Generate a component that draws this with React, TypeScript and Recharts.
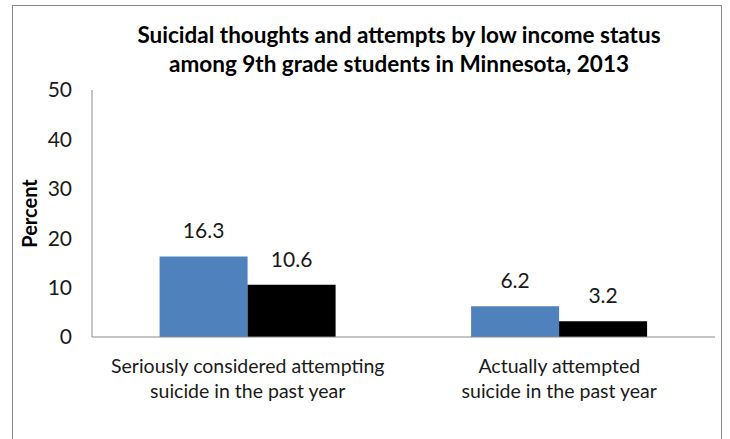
import React from 'react';
import { BarChart, Bar, XAxis, YAxis, LabelList } from 'recharts';

const categories = [
  'Seriously considered attempting|suicide in the past year',
  'Actually attempted|suicide in the past year',
];
const lowIncome = [16.3, 6.2];
const notLowIncome = [10.6, 3.2];
const yTicks = [0, 10, 20, 30, 40, 50];
const titleLines = [
  'Suicidal thoughts and attempts by low income status',
  'among 9th grade students in Minnesota, 2013',
];

const data = categories.map((c, i) => ({ name: c, low: lowIncome[i], notLow: notLowIncome[i] }));

const FONT = 'Lato, "Open Sans", sans-serif';
const TXT = '#1a1a1a';

const CatTick = (props: any) => {
  const { x, y, payload } = props;
  const lines = String(payload.value).split('|');
  return (
    <g transform={`translate(${x},${y})`}>
      {lines.map((l, i) => (
        <text key={i} x={0} y={0} dy={34 + i * 25} textAnchor="middle" fill={TXT} fontSize={19.5} fontFamily={FONT}>
          {l}
        </text>
      ))}
    </g>
  );
};

export default function App() {
  return (
    <div style={{ position: 'absolute', left: 0, top: 0, width: 730, height: 439, background: '#fff', overflow: 'hidden' }}>
      <div style={{ position: 'absolute', left: 12, top: 5, width: 708, height: 460, border: '1px solid #8a8a8a' }} />
      <div style={{ position: 'absolute', left: 0, top: 20, width: 798, textAlign: 'center', fontFamily: FONT, fontWeight: 700, fontSize: 22.5, lineHeight: '29px', color: '#000' }}>
        {titleLines.map((t, i) => (
          <div key={i}>{t}</div>
        ))}
      </div>
      <div style={{ position: 'absolute', left: 0, top: 0 }}>
        <BarChart width={730} height={439} data={data} margin={{ top: 90, right: 15, left: 0, bottom: 0 }} barCategoryGap="21.7%" barGap={0}>
          <XAxis dataKey="name" axisLine={{ stroke: '#8a8a8a' }} tickLine={false} tickSize={0} height={102} tick={<CatTick />} interval={0} />
          <YAxis
            domain={[0, 50]}
            ticks={yTicks}
            width={92}
            axisLine={{ stroke: '#8a8a8a' }}
            tickLine={false}
            tickSize={0}
            tickMargin={20}
            tick={{ fill: TXT, fontSize: 21, fontFamily: FONT }}
            label={{ value: 'Percent', angle: -90, position: 'insideLeft', offset: 30, style: { fill: '#000', fontSize: 20, fontWeight: 700, fontFamily: FONT, textAnchor: 'middle' } }}
          />
          <Bar dataKey="low" fill="#4F81BD" isAnimationActive={false}>
            <LabelList dataKey="low" position="top" offset={18} fill={TXT} fontSize={21} fontFamily={FONT} />
          </Bar>
          <Bar dataKey="notLow" fill="#000000" isAnimationActive={false}>
            <LabelList dataKey="notLow" position="top" offset={18} fill={TXT} fontSize={21} fontFamily={FONT} />
          </Bar>
        </BarChart>
      </div>
    </div>
  );
}
